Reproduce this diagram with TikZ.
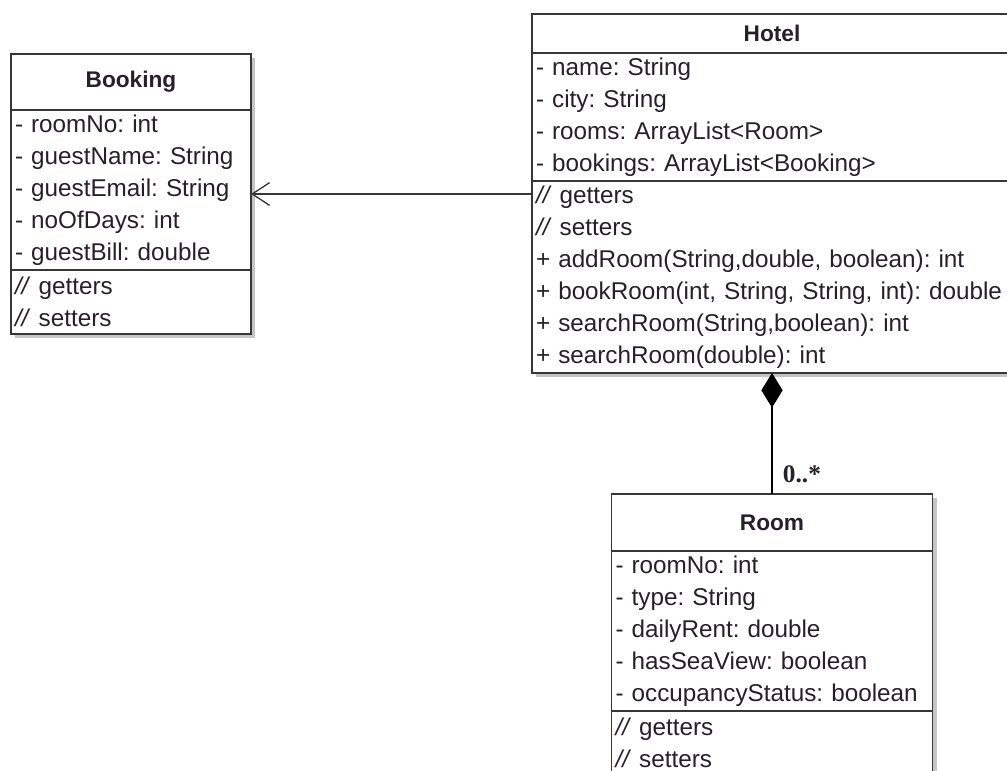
\documentclass[tikz,border=0pt]{standalone}
\usepackage{fontspec}
\setmainfont{Liberation Sans}
\newfontfamily\multfont{Liberation Serif}
\usepackage{tikz}
\usetikzlibrary{arrows.meta, positioning, shadows, calc}
\definecolor{linegray}{RGB}{55, 55, 55}
\definecolor{textdark}{RGB}{40, 32, 40}
\frenchspacing

\begin{document}
\begin{tikzpicture}[
    node distance=0pt,
    box/.style={draw=linegray, fill=white, line width=1pt, outer sep=0pt, text=textdark, drop shadow={shadow xshift=3pt, shadow yshift=-3pt, fill=black!45, opacity=0.5}},
    classname/.style={box, font=\fontsize{17}{20}\selectfont\bfseries, minimum width=#1, inner sep=0pt},
    members/.style={box, font=\fontsize{18.2}{24}\selectfont, text width=#1, align=left, inner xsep=3pt, inner ysep=0pt},
    assoc/.style={-{Straight Barb[length=13pt, width=17pt]}, line width=1pt, linegray},
    compose/.style={-{Diamond[length=26pt, width=16pt]}, line width=1pt, black},
    mult/.style={font=\multfont\fontsize{19}{22}\selectfont\bfseries, text=textdark, inner sep=0pt}
]
    \useasboundingbox (0,0) rectangle (755.25pt,-578.25pt);

    % Nodes
    \node[classname=180pt, minimum height=42pt, anchor=north west] (bktitle) at (8.25pt,-40.5pt) {Booking};
    \node[members=174pt, minimum height=120pt, below=of bktitle] (bkattr) {- roomNo: int\\- guestName: String\\- guestEmail: String\\- noOfDays: int\\- guestBill: double};
    \node[members=174pt, minimum height=48pt, below=of bkattr] (bkops) {\textit{//} getters\\\textit{//} setters};

    \node[classname=360pt, minimum height=29.25pt, anchor=north west] (htltitle) at (399pt,-10.5pt) {Hotel};
    \node[members=354pt, minimum height=96pt, below=of htltitle] (htlattr) {- name: String\\- city: String\\- rooms: ArrayList<Room>\\- bookings: ArrayList<Booking>};
    \node[members=354pt, minimum height=144pt, below=of htlattr] (htlops) {\textit{//} getters\\\textit{//} setters\\+ addRoom(String,double, boolean): int\\+ bookRoom(int, String, String, int): double\\+ searchRoom(String,boolean): int\\+ searchRoom(double): int};

    \node[classname=240.75pt, minimum height=42.75pt, below=90.75pt of htlops] (rmtitle) {Room};
    \node[members=234.75pt, minimum height=120pt, below=of rmtitle] (rmattr) {- roomNo: int\\- type: String\\- dailyRent: double\\- hasSeaView: boolean\\- occupancyStatus: boolean};
    \node[members=234.75pt, minimum height=48pt, below=of rmattr] (rmops) {\textit{//} getters\\\textit{//} setters};

    % Arrows
    \coordinate (assocstart) at ([yshift=-9.75pt]htlops.north west);
    \draw[assoc] (assocstart) -- (assocstart -| bkattr.east);
    \draw[compose] (rmtitle.north) -- (rmtitle.north |- htlops.south);
    \node[mult, anchor=base west] (rmmult) at ([xshift=8pt, yshift=9pt]rmtitle.north) {0..*};
\end{tikzpicture}
\end{document}
